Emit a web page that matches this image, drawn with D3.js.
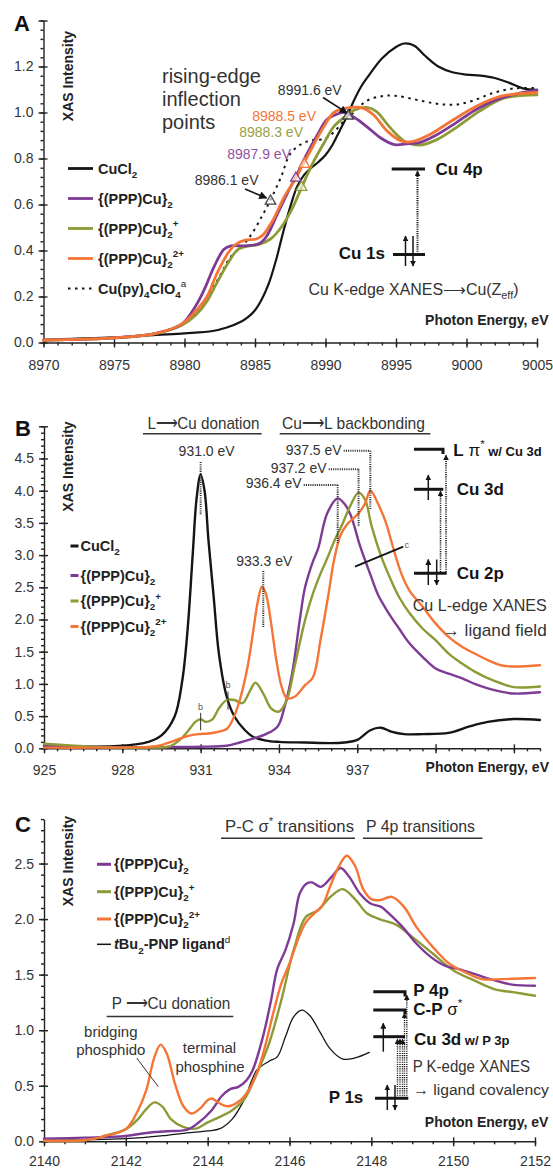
<!DOCTYPE html>
<html lang="en">
<head>
<meta charset="UTF-8">
<title>XANES panels</title>
<script src="https://cdnjs.cloudflare.com/ajax/libs/d3/7.8.5/d3.min.js"></script>
<style>
  body { margin: 0; background: #fff; }
  svg { display: block; font-family: "Liberation Sans", Arial, sans-serif; }
</style>
</head>
<body>
<svg id="fig" width="553" height="1169"></svg>
<script>
// ---- panel A: Cu K-edge ----
const aCuCl2 = [[8970,0.012],[8972,0.016],[8975,0.022],[8978,0.033],[8980,0.04],[8982,0.05],[8983,0.065],[8984,0.09],[8984.5,0.11],[8985,0.14],[8985.5,0.19],[8986,0.26],[8986.5,0.36],[8987,0.48],[8987.5,0.59],[8988,0.68],[8988.5,0.73],[8989,0.76],[8989.5,0.785],[8990,0.815],[8990.5,0.86],[8991,0.92],[8991.5,0.98],[8992,1.05],[8992.5,1.11],[8993,1.155],[8994,1.235],[8995,1.285],[8995.6,1.30],[8996.3,1.29],[8997,1.25],[8998,1.20],[8999,1.175],[9000,1.165],[9001,1.16],[9002,1.15],[9003,1.13],[9004,1.105],[9005,1.098]];
const aCuPy = [[8970,0.01],[8973,0.015],[8975,0.02],[8978,0.04],[8979.8,0.08],[8980.8,0.13],[8981.8,0.215],[8982.6,0.3],[8983.3,0.375],[8984.1,0.42],[8984.8,0.475],[8985.5,0.55],[8986.1,0.62],[8986.85,0.72],[8987.5,0.82],[8988.35,0.865],[8989.1,0.88],[8989.9,0.885],[8990.6,0.915],[8991.4,0.97],[8992.1,1.005],[8992.9,1.05],[8993.9,1.07],[8994.9,1.073],[8996.4,1.056],[8997.9,1.038],[8999.2,1.034],[9000.4,1.05],[9001.9,1.085],[9003.4,1.105],[9005,1.106]];
const aPPP0 = [[8970,0.01],[8975,0.02],[8978,0.04],[8979.8,0.08],[8980.8,0.16],[8981.4,0.23],[8982.1,0.33],[8982.8,0.405],[8983.3,0.42],[8984.3,0.42],[8985.3,0.43],[8985.8,0.46],[8986.6,0.56],[8987.3,0.65],[8987.9,0.72],[8988.6,0.81],[8989.4,0.9],[8990.1,0.97],[8990.7,0.99],[8991.3,1.0],[8992.1,0.976],[8992.9,0.94],[8993.9,0.89],[8994.9,0.86],[8995.9,0.865],[8996.6,0.868],[8997.8,0.9],[8999.2,0.953],[9000.6,1.01],[9002.05,1.054],[9003.5,1.08],[9005,1.097]];
const aPPP1 = [[8970,0.01],[8975,0.02],[8978,0.04],[8979.8,0.075],[8980.8,0.12],[8981.6,0.18],[8982.3,0.26],[8983.1,0.347],[8983.8,0.405],[8984.6,0.42],[8985.3,0.427],[8986.1,0.45],[8986.85,0.5],[8987.6,0.578],[8988.35,0.68],[8989.1,0.78],[8989.9,0.868],[8990.6,0.94],[8991.4,0.983],[8992.1,1.012],[8992.9,1.022],[8993.6,1.005],[8994.6,0.933],[8995.6,0.875],[8996.65,0.858],[8997.9,0.882],[8999.4,0.94],[9000.9,1.005],[9002.7,1.063],[9005,1.077]];
const aPPP2 = [[8970,0.01],[8975,0.02],[8978,0.04],[8979.8,0.08],[8980.8,0.137],[8981.6,0.2],[8982.3,0.3],[8983.1,0.39],[8983.6,0.425],[8984.3,0.445],[8985.1,0.45],[8985.6,0.47],[8986.3,0.535],[8987.1,0.636],[8987.85,0.71],[8988.4,0.774],[8989.1,0.853],[8989.9,0.94],[8990.6,1.0],[8991.6,1.02],[8992.6,1.02],[8993.4,0.99],[8994.4,0.918],[8995.4,0.875],[8996.15,0.873],[8997.4,0.904],[8998.9,0.962],[9000.7,1.027],[9002.4,1.07],[9005,1.087]];
// inflection points [eV, intensity, colour key]
const aInflect = [[8986.1,0.615,'dark'],[8987.9,0.715,'purple'],[8988.3,0.675,'olive'],[8988.5,0.775,'orange'],[8991.6,0.985,'dark']];
const aXTicks = [8970,8975,8980,8985,8990,8995,9000,9005];

// ---- panel B: Cu L-edge ----
const bCuCl2 = [[925,0.03],[926,0.03],[927,0.025],[928,0.04],[928.5,0.06],[929,0.1],[929.5,0.2],[930,0.49],[930.3,1.06],[930.5,1.84],[930.7,3.03],[930.85,3.9],[931.0,4.25],[931.15,4.0],[931.3,3.23],[931.5,2.35],[931.7,1.47],[932.0,0.8],[932.3,0.49],[932.7,0.28],[933.0,0.18],[933.5,0.12],[934,0.1],[935,0.09],[936,0.08],[936.5,0.09],[937,0.13],[937.5,0.28],[937.9,0.32],[938.3,0.26],[938.8,0.22],[939.5,0.22],[940.5,0.24],[941.3,0.34],[942,0.41],[943,0.455],[944,0.44]];
const bPPP0 = [[925,0.04],[926,0.03],[927,0.02],[928,0.015],[929,0.015],[930,0.02],[931,0.025],[932,0.04],[932.5,0.09],[933,0.15],[933.5,0.22],[933.95,0.34],[934.2,0.62],[934.5,1.15],[934.8,2.0],[935.0,2.5],[935.3,2.9],[935.5,3.1],[935.85,3.65],[936.25,3.88],[936.5,3.8],[936.75,3.62],[937.1,3.15],[937.5,2.7],[937.8,2.38],[938.2,2.1],[938.6,1.86],[939,1.63],[939.5,1.42],[940,1.24],[940.5,1.16],[941,1.09],[941.5,1.0],[942,0.93],[942.5,0.88],[943,0.85],[944,0.87]];
const bPPP1 = [[925,0.07],[926,0.045],[927,0.02],[928,0.01],[929,0.01],[929.8,0.03],[930.2,0.13],[930.5,0.26],[930.8,0.41],[931.0,0.45],[931.2,0.41],[931.45,0.45],[931.7,0.62],[932.0,0.75],[932.3,0.75],[932.6,0.7],[932.9,0.9],[933.1,1.02],[933.4,0.85],[933.7,0.62],[934.0,0.57],[934.3,0.75],[934.6,1.27],[935.0,1.99],[935.3,2.4],[935.6,2.72],[935.85,2.95],[936.1,3.2],[936.45,3.5],[936.75,3.78],[937.05,3.97],[937.3,3.86],[937.55,3.45],[937.9,3.0],[938.25,2.65],[938.6,2.35],[939,2.1],[939.5,1.86],[940,1.68],[940.5,1.47],[941,1.32],[941.5,1.19],[942,1.09],[942.5,1.01],[943,0.95],[944,0.96]];
const bPPP2 = [[925,0.01],[927,0.01],[928.5,0.015],[929,0.02],[929.5,0.05],[930,0.12],[930.5,0.19],[930.9,0.22],[931.3,0.23],[931.7,0.26],[932.0,0.3],[932.2,0.42],[932.5,0.75],[932.8,1.27],[933.0,1.78],[933.2,2.3],[933.35,2.51],[933.5,2.4],[933.7,1.94],[933.9,1.37],[934.1,0.96],[934.3,0.78],[934.6,0.8],[935.0,0.98],[935.3,1.1],[935.6,1.7],[935.9,2.4],[936.1,2.9],[936.35,3.3],[936.6,3.47],[937.05,3.65],[937.3,3.8],[937.5,4.0],[937.85,3.75],[938.1,3.5],[938.4,3.08],[938.7,2.7],[939,2.45],[939.5,2.2],[940,1.94],[940.5,1.73],[941,1.58],[941.5,1.47],[942,1.37],[942.5,1.29],[943,1.27],[944,1.29]];
const bXLabels = [925,928,931,934,937];

// ---- panel C: P K-edge ----
const cPPP0 = [[2140,0.024],[2141,0.033],[2142,0.048],[2142.5,0.075],[2143,0.09],[2143.5,0.105],[2143.75,0.16],[2144.1,0.28],[2144.35,0.41],[2144.55,0.47],[2144.75,0.49],[2144.95,0.55],[2145.1,0.64],[2145.35,0.94],[2145.55,1.27],[2145.7,1.55],[2145.9,1.72],[2146.1,1.96],[2146.25,2.23],[2146.42,2.32],[2146.55,2.33],[2146.77,2.29],[2147.03,2.38],[2147.25,2.46],[2147.46,2.38],[2147.72,2.23],[2147.98,2.14],[2148.24,2.11],[2148.4,2.06],[2148.76,1.93],[2149.1,1.78],[2149.45,1.66],[2149.8,1.58],[2150.14,1.55],[2150.57,1.5],[2151.0,1.45],[2151.44,1.41],[2152,1.40]];
const cPPP1 = [[2140,0.005],[2141,0.01],[2141.5,0.05],[2142,0.11],[2142.3,0.2],[2142.5,0.29],[2142.7,0.35],[2142.9,0.31],[2143.1,0.2],[2143.4,0.13],[2143.7,0.114],[2144.0,0.17],[2144.3,0.22],[2144.6,0.28],[2144.9,0.38],[2145.2,0.61],[2145.5,0.88],[2145.8,1.27],[2146.1,1.72],[2146.4,2.02],[2146.7,2.08],[2147.0,2.2],[2147.3,2.27],[2147.6,2.18],[2147.9,2.05],[2148.2,2.0],[2148.6,1.95],[2149.0,1.84],[2149.5,1.69],[2150,1.54],[2150.5,1.45],[2151,1.37],[2151.5,1.34],[2152,1.31]];
const cPPP2 = [[2140,0.005],[2141,0.01],[2141.5,0.05],[2142,0.11],[2142.3,0.28],[2142.5,0.46],[2142.7,0.76],[2142.85,0.87],[2143.0,0.79],[2143.2,0.52],[2143.4,0.32],[2143.6,0.25],[2143.8,0.29],[2144.0,0.37],[2144.1,0.385],[2144.3,0.34],[2144.5,0.315],[2144.8,0.37],[2145.0,0.46],[2145.2,0.61],[2145.4,0.85],[2145.6,1.15],[2145.8,1.42],[2146.0,1.6],[2146.2,1.81],[2146.4,1.97],[2146.6,2.05],[2146.8,2.12],[2147.0,2.3],[2147.2,2.47],[2147.4,2.57],[2147.6,2.48],[2147.8,2.27],[2148.0,2.18],[2148.2,2.17],[2148.5,2.2],[2148.8,2.11],[2149.1,1.93],[2149.5,1.75],[2149.9,1.6],[2150.3,1.52],[2150.7,1.46],[2151.2,1.46],[2152,1.47]];
const cLigand = [[2140,0.01],[2142,0.024],[2143,0.054],[2143.5,0.075],[2144,0.093],[2144.3,0.114],[2144.6,0.2],[2144.9,0.38],[2145.2,0.64],[2145.5,0.72],[2145.7,0.76],[2145.9,0.94],[2146.1,1.12],[2146.3,1.18],[2146.5,1.13],[2146.75,0.98],[2147.0,0.83],[2147.3,0.74],[2147.6,0.75],[2147.95,0.80]];
const cXTicks = [2140,2142,2144,2146,2148,2150,2152];

const col = { dark: '#333', black: '#151515', purple: '#7e3b95', olive: '#8d9a36', orange: '#f47536' };
const txt = '#333';
const narrow = '"Liberation Sans Narrow", "Arial Narrow", "Liberation Sans", sans-serif';

const svg = d3.select('#fig');
const defs = svg.append('defs');
function marker(id, w, h) {
  defs.append('marker').attr('id', id).attr('viewBox', '0 0 10 10')
    .attr('refX', 9).attr('refY', 5).attr('markerWidth', w).attr('markerHeight', h)
    .attr('markerUnits', 'userSpaceOnUse').attr('orient', 'auto')
    .append('path').attr('d', 'M0,0L10,5L0,10z').attr('fill', '#151515');
}
marker('arr', 9, 8);
marker('arrs', 6, 6);

// scales
const xA = d3.scaleLinear().domain([8970, 9005]).range([43.5, 537]);
const yA = d3.scaleLinear().domain([0, 1.4]).range([342.5, 20.5]);
const xB = d3.scaleLinear().domain([925, 944]).range([44, 540]);
const yB = d3.scaleLinear().domain([0, 5]).range([748.3, 426.3]);
const xC = d3.scaleLinear().domain([2140, 2152]).range([44, 535]);
const yC = d3.scaleLinear().domain([0, 2.9]).range([1141.3, 819.1]);

const steps = (a, b, s) => d3.range(0, Math.round((b - a) / s) + 1).map(i => +(a + i * s).toFixed(3));

function axes(x, y, o) {
  const g = svg.append('g').attr('color', '#222');
  const yb = y.range()[0], xl = x.range()[0];
  const gx = g.append('g').attr('transform', `translate(0,${yb})`);
  gx.append('g').call(d3.axisBottom(x).tickValues(o.xMinor).tickSize(3).tickSizeOuter(0).tickFormat(''))
    .call(s => s.select('.domain').remove());
  gx.append('g').call(d3.axisBottom(x).tickValues(o.xMajor).tickSize(5).tickSizeOuter(0)
      .tickFormat(d => o.xLabels.includes(d) ? String(d) : ''))
    .call(s => s.selectAll('.tick line').attr('y1', -4))
    .call(s => s.selectAll('.tick text').attr('y', o.xDy).attr('dy', null).attr('fill', txt));
  const gy = g.append('g').attr('transform', `translate(${xl},0)`);
  gy.append('g').call(d3.axisLeft(y).tickValues(o.yMinor).tickSize(3).tickSizeOuter(0).tickFormat(''))
    .call(s => s.select('.domain').remove());
  gy.append('g').call(d3.axisLeft(y).tickValues(o.yMajor).tickSize(5).tickSizeOuter(0)
      .tickFormat(d => d <= o.yLabelMax + 1e-9 ? d3.format('.1f')(d) : ''))
    .call(s => s.selectAll('.tick line').attr('x1', 4))
    .call(s => s.selectAll('.tick text').attr('x', -10).attr('fill', txt));
  g.selectAll('path, line').attr('stroke-width', 1.4);
  // d3 puts its own 10px sans-serif on every axis group; drop that
  g.selectAll('g').attr('font-size', null).attr('font-family', null);
  g.attr('font-size', 14);
}

function curve(x, y, data, color, width, dash) {
  svg.append('path').datum(data)
    .attr('fill', 'none').attr('stroke', color).attr('stroke-width', width)
    .attr('stroke-linejoin', 'round').attr('stroke-linecap', dash ? 'butt' : 'round')
    .attr('stroke-dasharray', dash || null)
    .attr('d', d3.line().x(d => x(d[0])).y(d => y(d[1])).curve(d3.curveCatmullRom.alpha(0.5)));
}

// text with sub/superscript pieces
function rich(x, y, parts, o = {}) {
  const size = o.size || 14;
  const t = svg.append('text').attr('x', x).attr('y', y)
    .attr('font-size', size).attr('fill', o.fill || '#222')
    .attr('font-weight', o.weight || 'normal').attr('text-anchor', o.anchor || 'start');
  if (o.family) t.attr('font-family', o.family);
  let shift = 0;
  parts.forEach(p => {
    if (typeof p === 'string') p = { t: p };
    const s = p.sub ? size * 0.3 : p.sup ? -size * 0.42 : 0;
    const ts = t.append('tspan').text(p.t).attr('dy', s - shift);
    shift = s;
    if (p.sub || p.sup) ts.attr('font-size', size * 0.68);
    if (p.size) ts.attr('font-size', p.size);
    if (p.weight) ts.attr('font-weight', p.weight);
    if (p.style) ts.attr('font-style', p.style);
  });
  if (o.len) t.attr('textLength', o.len).attr('lengthAdjust', 'spacingAndGlyphs');
  return t;
}
function seg(x1, y1, x2, y2, o = {}) {
  return svg.append('line').attr('x1', x1).attr('y1', y1).attr('x2', x2).attr('y2', y2)
    .attr('stroke', o.color || '#151515').attr('stroke-width', o.w || 1.5)
    .attr('stroke-dasharray', o.dash || null)
    .attr('marker-end', o.head ? `url(#${o.head})` : null);
}
const dots = '1.1,1.1';
function panelLabel(x, y, s) { rich(x, y, [s], { size: 22, weight: 'bold', fill: '#111' }); }
function yTitle(x, y) {
  svg.append('text').attr('transform', `translate(${x},${y}) rotate(-90)`)
    .attr('text-anchor', 'middle').attr('font-size', 14).attr('font-weight', 'bold')
    .attr('fill', '#222').text('XAS Intensity');
}

// ================= Panel A =================
axes(xA, yA, {
  xMajor: aXTicks, xMinor: steps(8970, 9005, 1), xLabels: aXTicks, xDy: 27.5,
  yMajor: steps(0, 1.4, 0.2), yMinor: steps(0, 1.4, 0.04), yLabelMax: 1.2
});
curve(xA, yA, aCuCl2, col.black, 2.2);
curve(xA, yA, aCuPy, col.black, 2, '2.5,4.5');
curve(xA, yA, aPPP1, col.olive, 2.8);
curve(xA, yA, aPPP0, col.purple, 2.8);
curve(xA, yA, aPPP2, col.orange, 2.8);
svg.append('g').selectAll('path').data(aInflect).join('path')
  .attr('transform', d => `translate(${xA(d[0])},${yA(d[1])})`)
  .attr('d', d3.symbol(d3.symbolTriangle, 48))
  .attr('fill', '#fff').attr('fill-opacity', 0.6)
  .attr('stroke', d => d[2] === 'dark' ? '#444' : col[d[2]]).attr('stroke-width', 1.3);

panelLabel(14, 31, 'A');
yTitle(73, 76);
rich(162, 83, ['rising-edge'], { size: 20, fill: txt });
rich(162, 106, ['inflection'], { size: 20, fill: txt });
rich(162, 128.5, ['points'], { size: 20, fill: txt });
rich(341.7, 94.5, ['8991.6 eV'], { anchor: 'end', fill: txt });
rich(316, 120.7, ['8988.5 eV'], { anchor: 'end', fill: col.orange });
rich(303, 136.5, ['8988.3 eV'], { anchor: 'end', fill: '#97a044' });
rich(291, 158.5, ['8987.9 eV'], { anchor: 'end', fill: '#93519f' });
rich(258.5, 185, ['8986.1 eV'], { anchor: 'end', fill: txt });
seg(323, 97.5, xA(8991.6) - 1, yA(0.985) - 3, { w: 1.6, head: 'arr' });
seg(245, 189, xA(8986.1) - 4, yA(0.615) - 3, { w: 1.6, head: 'arr' });

// legend A
const legA = [
  { c: col.black, parts: ['CuCl', { t: '2', sub: 1 }] },
  { c: col.purple, parts: ['{(PPP)Cu}', { t: '2', sub: 1 }] },
  { c: col.olive, parts: ['{(PPP)Cu}', { t: '2', sub: 1 }, { t: '+', sup: 1 }] },
  { c: col.orange, parts: ['{(PPP)Cu}', { t: '2', sub: 1 }, { t: '2+', sup: 1 }] },
  { c: col.black, dash: '2.5,4.5', w: 2, parts: ['Cu(py)', { t: '4', sub: 1 }, 'ClO', { t: '4', sub: 1 }, { t: 'a', sup: 1, weight: 'normal' }] }
];
legA.forEach((d, i) => {
  const yy = 168.5 + i * 30;
  seg(68, yy, 93, yy, { color: d.c, w: d.w || 2.8, dash: d.dash });
  rich(98, yy + 5, d.parts, { size: 14.5, weight: 'bold', fill: '#222' });
});

// energy diagram A
seg(391.7, 169, 425, 169, { w: 3 });
seg(393, 254.5, 425, 254.5, { w: 3 });
seg(405.5, 266, 405.5, 236, { w: 1.5, head: 'arrs' });
seg(413, 236, 413, 266, { w: 1.5, head: 'arrs' });
seg(417.5, 254, 417.5, 171, { w: 2, dash: dots, head: 'arrs' });
rich(435.5, 174.5, ['Cu 4p'], { size: 17, weight: 'bold', fill: '#151515' });
rich(385, 259, ['Cu 1s'], { size: 17, weight: 'bold', fill: '#151515', anchor: 'end' });
rich(308.5, 294.5, ['Cu K-edge XANES\u27F6Cu(Z', { t: 'eff', sub: 1 }, ')'],
  { size: 16, family: narrow, fill: txt, len: 210 });
rich(548.5, 324.5, ['Photon Energy, eV'], { weight: 'bold', anchor: 'end', fill: '#222' });

// ================= Panel B =================
axes(xB, yB, {
  xMajor: steps(925, 943, 3), xMinor: steps(925, 944, 0.5), xLabels: bXLabels, xDy: 26.5,
  yMajor: steps(0, 5, 0.5), yMinor: steps(0, 5, 0.1), yLabelMax: 4.5
});
curve(xB, yB, bCuCl2, col.black, 2.4);
curve(xB, yB, bPPP0, col.purple, 2.4);
curve(xB, yB, bPPP1, col.olive, 2.4);
curve(xB, yB, bPPP2, col.orange, 2.4);

panelLabel(15, 436, 'B');
yTitle(73, 466.5);
rich(147.4, 429.3, ['L\u27F6Cu donation'], { size: 17, family: narrow, fill: txt, len: 112 });
seg(143, 433.8, 261.7, 433.8, { w: 1.5, color: '#333' });
rich(282, 429.3, ['Cu\u27F6L backbonding'], { size: 17, family: narrow, fill: txt, len: 143 });
seg(279.7, 433.8, 430.3, 433.8, { w: 1.5, color: '#333' });

// peak markers
rich(xB(931.0) + 6, 456, ['931.0 eV'], { anchor: 'middle', fill: txt });
seg(xB(931.0), 462, xB(931.0), 515, { w: 2, dash: dots, color: '#333' });
rich(xB(933.4) + 1, 566.2, ['933.3 eV'], { anchor: 'middle', fill: txt });
seg(xB(933.4), 571, xB(933.4), 627, { w: 2, dash: dots, color: '#333' });
const bPeakLab = [[937.5, 341.7, 455, 450.7, 510], [937.05, 326.7, 472.7, 469.3, 526.7], [936.25, 301.7, 488.3, 485, 543]];
const bPeakTxt = ['937.5 eV', '937.2 eV', '936.4 eV'];
bPeakLab.forEach((p, i) => {
  rich(p[1], p[2], [bPeakTxt[i]], { anchor: 'end', fill: txt });
  seg(p[1] + 2, p[3], xB(p[0]), p[3], { w: 2, dash: dots, color: '#333' });
  seg(xB(p[0]), p[3], xB(p[0]), p[4], { w: 2, dash: dots, color: '#333' });
});
// b and c notes
seg(xB(931.0), yB(0.28), xB(931.0), yB(0.55), { w: 1, color: '#333' });
rich(xB(931.0), yB(0.6), ['b'], { size: 9, anchor: 'middle', fill: '#555' });
seg(xB(932.05), yB(0.6), xB(932.05), yB(0.88), { w: 1, color: '#333' });
rich(xB(932.05), yB(0.93), ['b'], { size: 9, anchor: 'middle', fill: '#555' });
seg(355, 566.7, 403.3, 546.7, { w: 2 });
rich(404.5, 548, ['c'], { size: 9, fill: '#555' });

// legend B
const legB = [
  { c: col.black, parts: ['CuCl', { t: '2', sub: 1 }] },
  { c: col.purple, parts: ['{(PPP)Cu}', { t: '2', sub: 1 }] },
  { c: col.olive, parts: ['{(PPP)Cu}', { t: '2', sub: 1 }, { t: '+', sup: 1 }] },
  { c: col.orange, parts: ['{(PPP)Cu}', { t: '2', sub: 1 }, { t: '2+', sup: 1 }] }
];
const legBy = [546, 575.5, 601, 626.5];
legB.forEach((d, i) => {
  seg(70.5, legBy[i], 78.5, legBy[i], { color: d.c, w: 3 });
  rich(80.5, legBy[i] + 5, d.parts, { size: 14.5, weight: 'bold', fill: '#222' });
});

// energy diagram B
svg.append('path').attr('d', 'M414,449.3H443V454').attr('fill', 'none').attr('stroke', '#151515').attr('stroke-width', 3);
seg(414, 489.3, 443.3, 489.3, { w: 3 });
seg(414, 573.3, 446.7, 573.3, { w: 3 });
seg(428.3, 500, 428.3, 475, { w: 1.5, head: 'arrs' });
seg(428.3, 585, 428.3, 559.5, { w: 1.5, head: 'arrs' });
seg(436.7, 559.5, 436.7, 585, { w: 1.5, head: 'arrs' });
seg(440.5, 572, 440.5, 491, { w: 1.6, dash: dots, head: 'arrs' });
seg(446, 572, 446, 455, { w: 1.6, dash: dots, head: 'arrs' });
rich(453.3, 455.5, [{ t: 'L' }, { t: ' \u03C0', weight: 'normal' }, { t: '*', sup: 1, weight: 'normal' }, { t: ' w/ Cu 3d', size: 13 }],
  { size: 17, weight: 'bold', fill: '#151515' });
rich(456.7, 495, ['Cu 3d'], { size: 17, weight: 'bold', fill: '#151515' });
rich(456.7, 579, ['Cu 2p'], { size: 17, weight: 'bold', fill: '#151515' });
rich(412.7, 611, ['Cu L-edge XANES'], { size: 17, family: narrow, fill: txt, len: 134 });
rich(442.7, 636, ['\u2192 ligand field'], { size: 17, family: narrow, fill: txt, len: 104 });
rich(549, 772, ['Photon Energy, eV'], { weight: 'bold', anchor: 'end', fill: '#222' });

// ================= Panel C =================
axes(xC, yC, {
  xMajor: cXTicks, xMinor: steps(2140, 2152, 0.5), xLabels: cXTicks, xDy: 24.5,
  yMajor: steps(0, 2.5, 0.5), yMinor: steps(0, 2.9, 0.1), yLabelMax: 2.5
});
curve(xC, yC, cLigand, col.black, 1.3);
curve(xC, yC, cPPP1, col.olive, 2.4);
curve(xC, yC, cPPP0, col.purple, 2.4);
curve(xC, yC, cPPP2, col.orange, 2.4);

panelLabel(15, 832, 'C');
yTitle(73, 861);
rich(225, 831.7, ['P-C  \u03C3', { t: '*', sup: 1 }, ' transitions'], { size: 17, family: narrow, fill: txt, len: 129 });
seg(221, 838.3, 355, 838.3, { w: 1.5, color: '#333' });
rich(366, 831.7, ['P 4p transitions'], { size: 17, family: narrow, fill: txt, len: 109 });
seg(363, 838.3, 482.4, 838.3, { w: 1.5, color: '#333' });

const legC = [
  { c: col.purple, w: 3, parts: ['{(PPP)Cu}', { t: '2', sub: 1 }] },
  { c: col.olive, w: 3, parts: ['{(PPP)Cu}', { t: '2', sub: 1 }, { t: '+', sup: 1 }] },
  { c: col.orange, w: 3, parts: ['{(PPP)Cu}', { t: '2', sub: 1 }, { t: '2+', sup: 1 }] },
  { c: col.black, w: 1.5, parts: [{ t: 't', style: 'italic' }, 'Bu', { t: '2', sub: 1 }, '-PNP ligand', { t: 'd', sup: 1, weight: 'normal' }] }
];
const legCy = [864.3, 891.7, 919, 944.3];
legC.forEach((d, i) => {
  seg(97, legCy[i], 111, legCy[i], { color: d.c, w: d.w });
  rich(114, legCy[i] + 5, d.parts, { size: 14.5, weight: 'bold', fill: '#222' });
});

rich(111.7, 1009.3, ['P \u27F6Cu donation'], { size: 17, family: narrow, fill: txt, len: 118.5 });
seg(106.7, 1016.5, 233.3, 1016.5, { w: 1.5, color: '#333' });
rich(110.8, 1036.7, ['bridging'], { size: 15, family: narrow, fill: txt, anchor: 'middle' });
rich(110.8, 1055, ['phosphido'], { size: 15, family: narrow, fill: txt, anchor: 'middle' });
seg(136.7, 1058, 158.3, 1086.7, { w: 1, color: '#333' });
rich(209.5, 1053.3, ['terminal'], { size: 15, family: narrow, fill: txt, anchor: 'middle' });
rich(210, 1071.5, ['phosphine'], { size: 15, family: narrow, fill: txt, anchor: 'middle' });

// energy diagram C
svg.append('path').attr('d', 'M373.3,991.7H405V996.5').attr('fill', 'none').attr('stroke', '#151515').attr('stroke-width', 3);
svg.append('path').attr('d', 'M373.3,1010H405V1014').attr('fill', 'none').attr('stroke', '#151515').attr('stroke-width', 3);
seg(373.3, 1036.7, 405, 1036.7, { w: 3 });
seg(375, 1098.3, 408.3, 1098.3, { w: 3 });
seg(383.3, 1051.7, 383.3, 1023.3, { w: 1.5, head: 'arrs' });
seg(387.3, 1110, 387.3, 1085, { w: 1.5, head: 'arrs' });
seg(395, 1085, 395, 1110, { w: 1.5, head: 'arrs' });
[397.5, 400, 402.5].forEach(xx => seg(xx, 1098, xx, 1039, { w: 1.4, dash: dots, head: 'arrs' }));
seg(404.5, 1098, 404.5, 1013, { w: 1.4, dash: dots, head: 'arrs' });
seg(406.8, 1098, 406.8, 995, { w: 1.4, dash: dots, head: 'arrs' });
rich(413.3, 996, ['P 4p'], { size: 17, weight: 'bold', fill: '#151515' });
rich(413.3, 1014.5, ['C-P', { t: ' \u03C3', weight: 'normal' }, { t: '*', sup: 1, weight: 'normal' }], { size: 17, weight: 'bold', fill: '#151515' });
rich(414, 1045, ['Cu 3d', { t: ' w/ P 3p', size: 13 }], { size: 17, weight: 'bold', fill: '#151515' });
rich(363.3, 1103, ['P 1s'], { size: 17, weight: 'bold', fill: '#151515', anchor: 'end' });
rich(412.7, 1071.7, ['P K-edge XANES'], { size: 17, family: narrow, fill: txt, len: 117.3 });
rich(413.3, 1095, ['\u2192 ligand covalency'], { size: 15.5, family: narrow, fill: txt, len: 135.5 });
rich(548.3, 1127, ['Photon Energy, eV'], { weight: 'bold', anchor: 'end', fill: '#222' });
</script>
</body>
</html>
